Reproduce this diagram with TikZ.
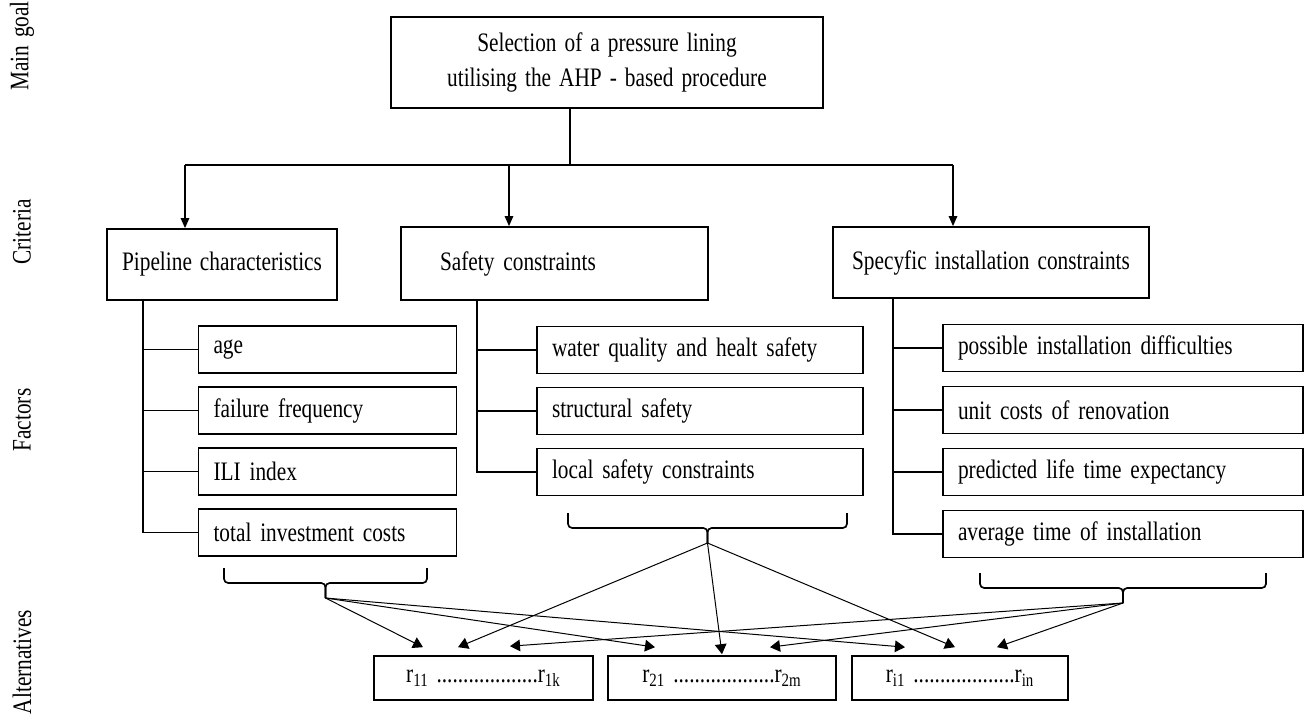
\documentclass[tikz,border=0pt]{standalone}
\usepackage{fontspec}
\setmainfont{Liberation Serif}[FakeStretch=0.8, WordSpace=1.5]
\usetikzlibrary{positioning,arrows.meta}

\begin{document}
\begin{tikzpicture}[x=0.6pt, y=-0.6pt, node distance=36.6pt, font=\fontsize{16}{19}\selectfont,
  main/.style = {draw, line width=1pt, minimum height=42.6pt, inner sep=0pt, align=center},
  fac/.style = {draw, line width=1pt, minimum height=28.2pt, inner ysep=0pt, inner xsep=9pt, text width=#1, align=left},
  alt/.style = {draw, line width=1pt, minimum height=26.4pt, inner sep=0pt},
  brc/.style = {line width=1pt, rounded corners=2.5pt},
  tip/.style = {line width=1pt, -{Triangle[length=6pt, width=5pt]}},
  arr/.style = {line width=0.6pt, -{Triangle[length=6pt, width=7pt]}}]
\useasboundingbox (0,0) rectangle (1306,717);

\node[rotate=90] (l1) at (22,46) {Main goal};
\node[rotate=90] (l2) at (22,232) {Criteria};
\node[rotate=90] (l3) at (22,420) {Factors};
\node[rotate=90] (l4) at (22,662) {Alternatives};

\node[main, minimum width=259.2pt, minimum height=54.6pt, font=\fontsize{16}{21}\selectfont] (1) at (607,62.5) {Selection of a pressure lining\\utilising the AHP - based procedure};

\node[main, minimum width=138pt] (2) at (222,264.5) {Pipeline characteristics};
\node[main, minimum height=43.8pt, inner xsep=23.4pt, text width=137.4pt, align=left] (3) at (554.5,263.5) {Safety constraints};
\node[main, minimum width=189.6pt] (4) at (991,262.5) {Specyfic installation constraints};

\node[fac=136.8pt] (5) at (327.5,349.5) {age};
\node[fac=136.8pt, below of=5] (6) {failure frequency};
\node[fac=136.8pt, below of=6] (7) {ILI index};
\node[fac=136.8pt, below of=7] (8) {total investment costs};

\node[fac=177.6pt] (9) at (700,350) {water quality and healt safety};
\node[fac=177.6pt, below of=9] (10) {structural safety};
\node[fac=177.6pt, below of=10] (11) {local safety constraints};

\node[fac=198pt] (12) at (1123,348) {possible installation difficulties};
\node[fac=198pt, below of=12, node distance=37.2pt] (13) {unit costs of renovation};
\node[fac=198pt, below of=13, node distance=37.2pt] (14) {predicted life time expectancy};
\node[fac=198pt, below of=14, node distance=37.2pt] (15) {average time of installation};

\node[alt, minimum width=131.4pt] (16) at (483.5,678) {r\textsubscript{11} ...................r\textsubscript{1k}};
\node[alt, minimum width=136.8pt, right of=16, node distance=143.1pt] (17) {r\textsubscript{21} ...................r\textsubscript{2m}};
\node[alt, minimum width=129.6pt, right of=17, node distance=142.8pt] (18) {r\textsubscript{i1} ...................r\textsubscript{in}};

\coordinate (j) at (570,165);
\coordinate (k1) at (185,165);
\coordinate (k2) at (509,165);
\coordinate (k3) at (953,165);
\draw[line width=1pt] (1.south -| j) -- (j);
\draw[line width=1pt] (k1) -- (k3);
\draw[tip] (k1) -- (k1 |- 2.north);
\draw[tip] (k2) -- (k2 |- 3.north);
\draw[tip] (k3) -- (k3 |- 4.north);

\coordinate (a) at (143,0);
\coordinate (b) at (477,0);
\coordinate (c) at (893,0);
\draw[line width=1pt] (2.south -| a) |- (8.west);
\draw[line width=1pt] (5.west -| a) -- (5.west);
\draw[line width=1pt] (6.west -| a) -- (6.west);
\draw[line width=1pt] (7.west -| a) -- (7.west);
\draw[line width=1pt] (3.south -| b) |- (11.west);
\draw[line width=1pt] (9.west -| b) -- (9.west);
\draw[line width=1pt] (10.west -| b) -- (10.west);
\draw[line width=1pt] (4.south -| c) |- (15.west);
\draw[line width=1pt] (12.west -| c) -- (12.west);
\draw[line width=1pt] (13.west -| c) -- (13.west);
\draw[line width=1pt] (14.west -| c) -- (14.west);

\coordinate (t1) at (325.5,598);
\coordinate (t2) at (707.5,543);
\coordinate (t3) at (1123,603);
\draw[brc] (224,568) |- (325.5,583) -- (t1);
\draw[brc] (427,568) |- (325.5,583) -- (t1);
\draw[brc] (568,513) |- (707.5,528) -- (t2);
\draw[brc] (847,513) |- (707.5,528) -- (t2);
\draw[brc] (980,573) |- (1123,588) -- (t3);
\draw[brc] (1266,573) |- (1123,588) -- (t3);

\draw[arr] (t1) -- ([xshift=-36.3pt, yshift=4.8pt]16.north);
\draw[arr] (t1) -- ([xshift=-40.2pt, yshift=4.8pt]17.north);
\draw[arr] (t1) -- ([xshift=-33pt, yshift=4.8pt]18.north);
\draw[arr] (t2) -- ([xshift=-15.3pt, yshift=4.8pt]16.north);
\draw[arr] (t2) -- ([yshift=0.6pt]17.north);
\draw[arr] (t2) -- ([xshift=-3pt, yshift=4.8pt]18.north);
\draw[arr] (t3) -- ([xshift=15.9pt, yshift=5.4pt]16.north);
\draw[arr] (t3) -- ([xshift=28.8pt, yshift=4.8pt]17.north);
\draw[arr] (t3) -- ([xshift=22.2pt, yshift=4.8pt]18.north);
\end{tikzpicture}
\end{document}
